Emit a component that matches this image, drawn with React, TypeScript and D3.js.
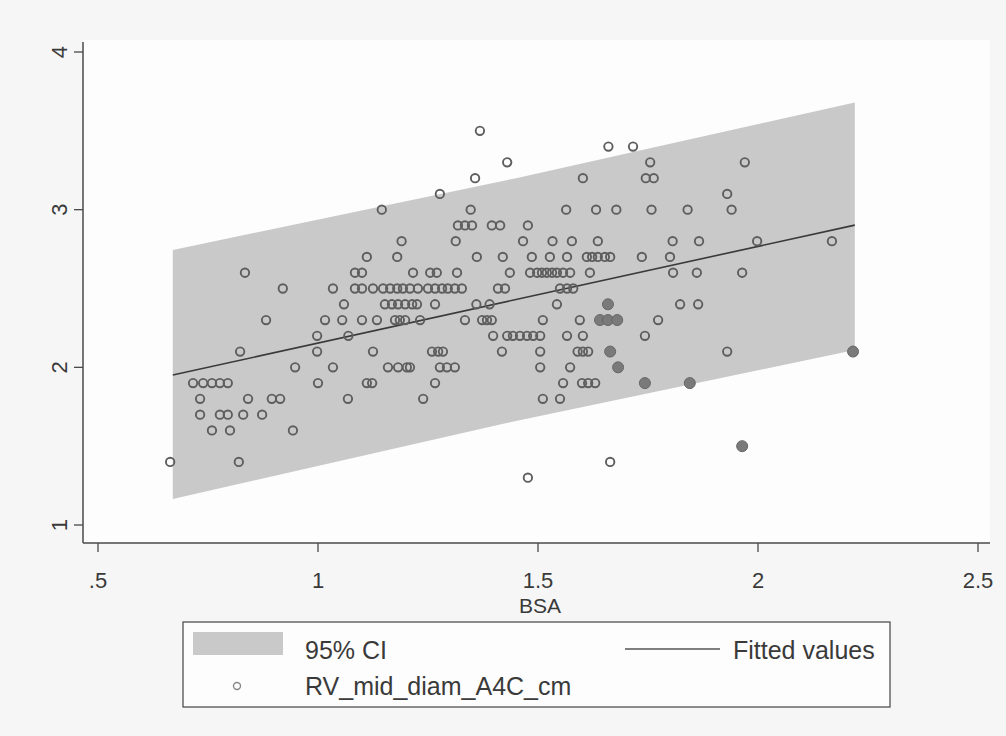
import { useEffect, useRef } from "react";
import * as d3 from "d3";

// RV mid diameter (cm) by BSA, one row per 0.1 cm level
const rvLevels = [3.5, 3.4, 3.3, 3.2, 3.1, 3.0, 2.9, 2.8, 2.7, 2.6, 2.5, 2.4, 2.3, 2.2, 2.1, 2.0, 1.9, 1.8, 1.7, 1.6, 1.4, 1.3];
const bsaAtLevel = [
  [1.368],
  [1.66, 1.716],
  [1.43, 1.755, 1.97],
  [1.357, 1.602, 1.745, 1.763],
  [1.277, 1.93],
  [1.145, 1.347, 1.564, 1.632, 1.678, 1.758, 1.84, 1.94],
  [1.318, 1.334, 1.35, 1.395, 1.414, 1.477],
  [1.19, 1.313, 1.466, 1.533, 1.577, 1.636, 1.806, 1.866, 1.998, 2.168],
  [1.111, 1.18, 1.361, 1.42, 1.486, 1.527, 1.566, 1.611, 1.623, 1.636, 1.652, 1.664, 1.736, 1.8],
  [0.834, 1.084, 1.1, 1.216, 1.255, 1.27, 1.316, 1.436, 1.482, 1.498, 1.509, 1.52, 1.532, 1.543, 1.557, 1.573, 1.618, 1.807, 1.861, 1.964],
  [0.92, 1.034, 1.084, 1.1, 1.125, 1.148, 1.164, 1.18, 1.193, 1.209, 1.227, 1.25, 1.266, 1.282, 1.295, 1.311, 1.327, 1.409, 1.425, 1.55, 1.566, 1.58],
  [1.059, 1.152, 1.168, 1.182, 1.198, 1.214, 1.225, 1.266, 1.36, 1.39, 1.543, 1.823, 1.864],
  [0.882, 1.016, 1.055, 1.1, 1.134, 1.175, 1.186, 1.198, 1.232, 1.334, 1.373, 1.384, 1.395, 1.511, 1.595, 1.773],
  [0.998, 1.069, 1.398, 1.43, 1.443, 1.459, 1.475, 1.489, 1.505, 1.566, 1.602, 1.743],
  [0.823, 0.998, 1.125, 1.259, 1.273, 1.284, 1.418, 1.505, 1.59, 1.602, 1.614, 1.93],
  [0.948, 1.034, 1.159, 1.182, 1.202, 1.209, 1.277, 1.293, 1.311, 1.505, 1.573],
  [0.716, 0.739, 0.759, 0.777, 0.795, 1.0, 1.111, 1.123, 1.266, 1.557, 1.6, 1.614, 1.63],
  [0.732, 0.841, 0.895, 0.914, 1.068, 1.239, 1.511, 1.55],
  [0.732, 0.777, 0.795, 0.83, 0.873],
  [0.759, 0.8, 0.943],
  [0.664, 0.82, 1.664],
  [1.477],
];

// markers that came out solid in the scan
const darkBsa = [1.659, 1.641, 1.659, 1.68, 1.664, 1.682, 1.743, 1.845, 1.964, 2.216];
const darkRv = [2.4, 2.3, 2.3, 2.3, 2.1, 2.0, 1.9, 1.9, 1.5, 2.1];

// lfitci band + fitted line
const ciBsa = [0.67, 1.45, 2.22];
const ciLow = [1.165, 1.66, 2.11];
const ciHigh = [2.744, 3.2, 3.68];
const fitted = [1.951, 2.43, 2.902];

const xTicks = [0.5, 1, 1.5, 2, 2.5];
const yTicks = [1, 2, 3, 4];
const fmtX = (d: number) => (d === 0.5 ? ".5" : String(d));

const W = 1006;
const H = 736;
const FONT = "'Liberation Sans', Arial, sans-serif";

export default function App() {
  const ref = useRef<SVGSVGElement | null>(null);

  useEffect(() => {
    const svg = d3.select(ref.current);
    svg.selectAll("*").remove();

    const x = d3.scaleLinear().domain([0.5, 2.5]).range([98, 978]);
    const y = d3.scaleLinear().domain([1, 4]).range([525, 52]);

    // outer graph region + plot region
    svg.append("rect").attr("width", W).attr("height", H).attr("fill", "#f6f6f6");
    svg.append("rect").attr("x", 83).attr("y", 40).attr("width", 907).attr("height", 503).attr("fill", "#fdfdfd");

    const band = ciBsa.map((b, i) => ({ b, lo: ciLow[i], hi: ciHigh[i], fit: fitted[i] }));

    svg.append("path")
      .datum(band)
      .attr("fill", "#c9c9c9")
      .attr("d", d3.area<any>().x(d => x(d.b)).y0(d => y(d.lo)).y1(d => y(d.hi)));

    svg.append("path")
      .datum(band)
      .attr("fill", "none")
      .attr("stroke", "#3a3a3a")
      .attr("stroke-width", 1.6)
      .attr("d", d3.line<any>().x(d => x(d.b)).y(d => y(d.fit)));

    const pts: { b: number; rv: number }[] = [];
    rvLevels.forEach((rv, i) => bsaAtLevel[i].forEach(b => pts.push({ b, rv })));

    svg.append("g")
      .selectAll("circle")
      .data(pts)
      .join("circle")
      .attr("cx", d => x(d.b))
      .attr("cy", d => y(d.rv))
      .attr("r", 4.2)
      .attr("fill", "none")
      .attr("stroke", "#5e5e5e")
      .attr("stroke-width", 1.9);

    svg.append("g")
      .selectAll("circle")
      .data(darkBsa.map((b, i) => ({ b, rv: darkRv[i] })))
      .join("circle")
      .attr("cx", d => x(d.b))
      .attr("cy", d => y(d.rv))
      .attr("r", 5.5)
      .attr("fill", "#7a7a7a")
      .attr("stroke", "#666")
      .attr("stroke-width", 1);

    // axes, drawn by hand to get the stata look (rotated y labels, ".5")
    const axisCol = "#4a4a4a";
    svg.append("line").attr("x1", 83).attr("x2", 83).attr("y1", 42).attr("y2", 543)
      .attr("stroke", axisCol).attr("stroke-width", 1.5);
    svg.append("line").attr("x1", 83).attr("x2", 990).attr("y1", 543).attr("y2", 543)
      .attr("stroke", axisCol).attr("stroke-width", 1.5);

    const xt = svg.append("g").selectAll("g").data(xTicks).join("g")
      .attr("transform", d => `translate(${x(d)},543)`);
    xt.append("line").attr("y2", 9).attr("stroke", axisCol).attr("stroke-width", 1.3);
    xt.append("text")
      .attr("y", 45)
      .attr("text-anchor", "middle")
      .attr("font-family", FONT)
      .attr("font-size", 22)
      .attr("fill", "#3a3a3a")
      .text(fmtX);

    const yt = svg.append("g").selectAll("g").data(yTicks).join("g")
      .attr("transform", d => `translate(83,${y(d)})`);
    yt.append("line").attr("x2", -9).attr("stroke", axisCol).attr("stroke-width", 1.3);
    yt.append("text")
      .attr("transform", "translate(-16,0) rotate(-90)")
      .attr("text-anchor", "middle")
      .attr("font-family", FONT)
      .attr("font-size", 22)
      .attr("fill", "#3a3a3a")
      .text(d => String(d));

    svg.append("text")
      .attr("x", 540).attr("y", 613)
      .attr("text-anchor", "middle")
      .attr("font-family", FONT).attr("font-size", 21).attr("fill", "#3a3a3a")
      .text("BSA");

    // legend
    const lg = svg.append("g").attr("font-family", FONT).attr("font-size", 25).attr("fill", "#3a3a3a");
    lg.append("rect").attr("x", 183).attr("y", 622).attr("width", 707).attr("height", 85)
      .attr("fill", "#fdfdfd").attr("stroke", "#444").attr("stroke-width", 1.2);
    lg.append("rect").attr("x", 193).attr("y", 632).attr("width", 90).attr("height", 23).attr("fill", "#c9c9c9");
    lg.append("text").attr("x", 305).attr("y", 659).text("95% CI");
    lg.append("line").attr("x1", 625).attr("x2", 720).attr("y1", 649).attr("y2", 649)
      .attr("stroke", "#555").attr("stroke-width", 1.5);
    lg.append("text").attr("x", 733).attr("y", 659).text("Fitted values");
    lg.append("circle").attr("cx", 237).attr("cy", 686).attr("r", 3.5)
      .attr("fill", "none").attr("stroke", "#888").attr("stroke-width", 1.4);
    lg.append("text").attr("x", 305).attr("y", 695).text("RV_mid_diam_A4C_cm");
  }, []);

  return (
    <div style={{ position: "absolute", left: 0, top: 0 }}>
      <svg ref={ref} width={W} height={H} />
    </div>
  );
}
